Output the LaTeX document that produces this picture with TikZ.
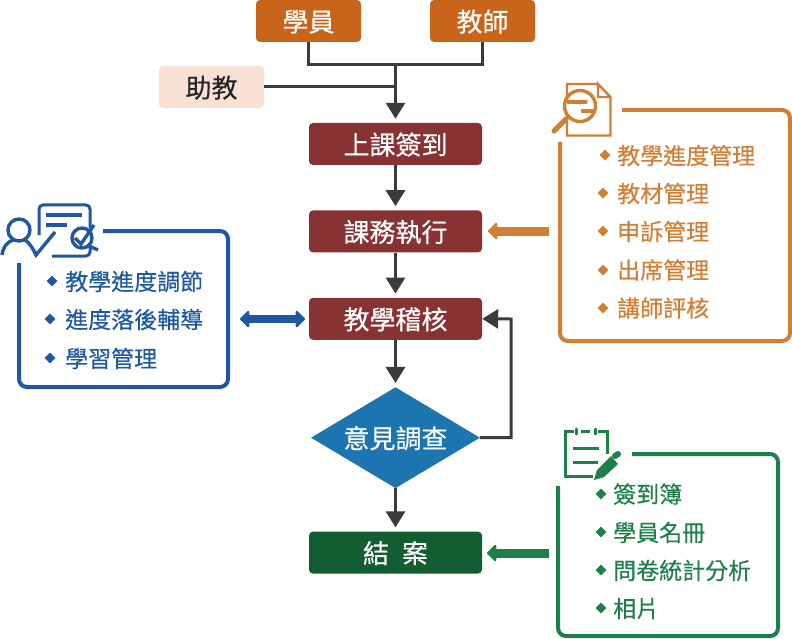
\documentclass[tikz,border=0pt]{standalone}
\usepackage{fontspec}
\setmainfont{Noto Sans CJK TC}[FakeBold=0.35]
\usetikzlibrary{positioning,arrows.meta,shapes.geometric}
\definecolor{rolefill}{HTML}{C8651B}
\definecolor{tafill}{HTML}{F9E2D5}
\definecolor{stepfill}{HTML}{883333}
\definecolor{askfill}{HTML}{1C75AE}
\definecolor{endfill}{HTML}{125D31}
\definecolor{orangeline}{HTML}{D27E35}
\definecolor{blueline}{HTML}{1F58A0}
\definecolor{greenline}{HTML}{1E8047}
\definecolor{flowline}{HTML}{3B3B3B}

\begin{document}
\begin{tikzpicture}[
    x=1pt, y=-1pt,
    box/.style={rounded corners=4pt, align=center, inner sep=0pt,
                font=\fontsize{26}{26}\selectfont, minimum height=42pt,
                text height=24pt, text depth=3pt},
    role/.style={box, fill=rolefill, text=white, minimum width=105pt},
    ta/.style={box, fill=tafill, text=black!85, minimum width=105pt},
    stepbox/.style={box, fill=stepfill, text=white, minimum width=173pt},
    ask/.style={diamond, aspect=1.67, fill=askfill, text=white, inner sep=0pt,
                font=\fontsize{26}{26}\selectfont, minimum width=169pt, minimum height=101pt,
                text height=24pt, text depth=3pt},
    flow/.style={-{Triangle[length=16pt,width=19pt]}, flowline, line width=3pt, shorten >=4pt},
    link/.style={flowline, line width=3pt},
    panel/.style={line width=4pt, rounded corners=8pt},
    wide/.style={line width=9pt, -{Triangle[round,length=10pt,width=19pt]}},
    item/.style={anchor=west, inner sep=0pt, font=\fontsize{23}{23}\selectfont},
    dot/.style={diamond, minimum size=11pt, inner sep=0pt}
  ]
    \useasboundingbox (0,0) rectangle (792,639);

    % flow column
    \node[role] (student) at (308.5,21) {學員};
    \node[role] (teacher) at (482.5,21) {教師};
    \node[ta]   (assist)  at (211.5,87) {助教};
    \node[stepbox] (signin) at (395.5,144) {上課簽到};
    \node[stepbox, below=45pt of signin] (run)   {課務執行};
    \node[stepbox, below=45pt of run]    (audit) {教學稽核};
    \node[ask,     below=47pt of audit]  (survey) {意見調查};
    \node[stepbox, below=43pt of survey, fill=endfill] (close) {結\hspace{.5em}案};
    \coordinate (join) at (395.5,65);
    \coordinate (meet) at (395.5,87);

    \draw[link] (student.south) |- (join);
    \draw[link] (teacher.south) |- (join);
    \draw[link] (assist) -- (meet);
    \draw[flow] (join) -- (signin);
    \draw[flow] (signin) -- (run);
    \draw[flow] (run) -- (audit);
    \draw[flow] (audit) -- (survey);
    \draw[flow] (survey) -- (close);
    \draw[flow, shorten >=0pt] (survey.east) -| (511,319) -- (audit.east);

    % orange panel
    \draw[panel, orangeline] (622,110) -- (790,110) -- (790,341) -- (560,341) -- (560,142);
    \node[item, text=orangeline] (o1) at (617,155.5) {教學進度管理};
    \node[item, text=orangeline] (o2) at (617,193.5) {教材管理};
    \node[item, text=orangeline] (o3) at (617,231.5) {申訴管理};
    \node[item, text=orangeline] (o4) at (617,270) {出席管理};
    \node[item, text=orangeline] (o5) at (617,308) {講師評核};
    \node[dot, fill=orangeline] at (605,155) {};
    \node[dot, fill=orangeline] at (603,193) {};
    \node[dot, fill=orangeline] at (603,231) {};
    \node[dot, fill=orangeline] at (603,270) {};
    \node[dot, fill=orangeline] at (603,308) {};
    \coordinate (otail) at (549,231);
    \coordinate (ohead) at (488,231);
    \draw[wide, orangeline] (otail) -- (ohead);

    % document and lens
    \draw[orangeline, line width=2.4pt] (598,84) -- (567,84) -- (567,135.5) -- (610.5,135.5) -- (610.5,97) -- (598,84) -- (598,97) -- (610.5,97);
    \draw[orangeline, line width=3.4pt, fill=white] (580,106) circle (15.5pt);
    \draw[orangeline, line width=5pt, line cap=round] (566,119) -- (554,131);
    \draw[orangeline, line width=3.4pt, line cap=round] (568,102) -- (586,102);
    \draw[orangeline, line width=3.4pt] (581,111) -- (594,111);

    % blue panel
    \draw[panel, blueline] (103,231) -- (228,231) -- (228,387) -- (19,387) -- (19,263);
    \node[item, text=blueline] (b1) at (65,281.5) {教學進度調節};
    \node[item, text=blueline] (b2) at (65,319.5) {進度落後輔導};
    \node[item, text=blueline] (b3) at (65,358.5) {學習管理};
    \node[dot, fill=blueline] at (52,281) {};
    \node[dot, fill=blueline] at (50,319) {};
    \node[dot, fill=blueline] at (50,358) {};
    \coordinate (bleft) at (240,319);
    \coordinate (bright) at (305,319);
    \draw[line width=8pt, blueline, {Triangle[round,length=10pt,width=19pt]}-{Triangle[round,length=10pt,width=19pt]}] (bleft) -- (bright);

    % person and checked form
    \draw[blueline, line width=3.4pt] (19,230) circle (11pt);
    \draw[blueline, line width=3.4pt] (2,255) .. controls (3,247) and (7,242) .. (13,240);
    \draw[blueline, line width=3.4pt] (25,240) .. controls (30,243) and (33,249) .. (36,255) -- (55,232);
    \draw[blueline, line width=3pt, rounded corners=4pt] (39,235) -- (39,205) -- (90,205) -- (90,228);
    \draw[blueline, line width=3pt, rounded corners=4pt] (52,256) -- (90,256) -- (90,246);
    \draw[blueline, line width=3.4pt] (46,215) -- (82,215);
    \draw[blueline, line width=3.4pt] (46,225) -- (67,225);
    \draw[blueline, line width=3.4pt] (82,238) circle (10pt);
    \draw[blueline, line width=3.4pt] (75,238) -- (81,244) -- (94,225);
    \draw[blueline, line width=3.4pt] (89,246) -- (98,250);

    % green panel
    \draw[panel, greenline] (632,454) -- (778,454) -- (778,636) -- (558,636) -- (558,486);
    \node[item, text=greenline] (g1) at (613,494) {簽到簿};
    \node[item, text=greenline] (g2) at (613,532.5) {學員名冊};
    \node[item, text=greenline] (g3) at (613,570.5) {問卷統計分析};
    \node[item, text=greenline] (g4) at (613,608.5) {相片};
    \node[dot, fill=greenline] at (601,494) {};
    \node[dot, fill=greenline] at (601,532) {};
    \node[dot, fill=greenline] at (601,570) {};
    \node[dot, fill=greenline] at (601,608) {};
    \coordinate (gtail) at (549,553);
    \coordinate (ghead) at (487,553);
    \draw[wide, greenline] (gtail) -- (ghead);

    % clipboard and pencil
    \draw[greenline, line width=3pt] (574,431) -- (565,431) -- (565,476) -- (593,476);
    \draw[greenline, line width=3pt] (581,431) -- (590,431);
    \draw[greenline, line width=3pt] (598,431) -- (607,431) -- (607,454);
    \draw[greenline, line width=3pt, line cap=round] (576,429) -- (576,434);
    \draw[greenline, line width=3pt, line cap=round] (595,429) -- (595,434);
    \draw[greenline, line width=3pt] (573,448) -- (599,448);
    \draw[greenline, line width=3pt] (573,462) -- (598,462);
    \fill[greenline] (594,480) -- (597,470) -- (611,456) -- (618,464) -- (604,477) -- cycle;
    \draw[greenline, line width=6pt, line cap=round] (615,456) -- (618,454);
\end{tikzpicture}
\end{document}
